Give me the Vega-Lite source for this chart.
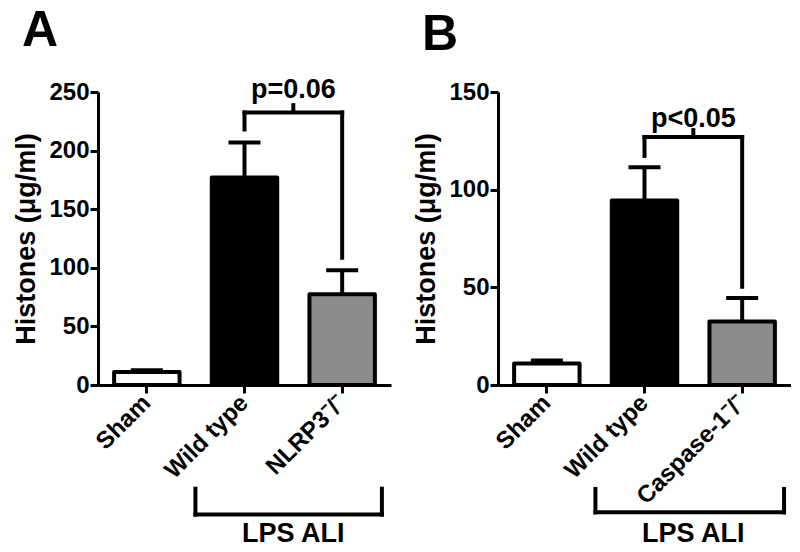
{
  "$schema": "https://vega.github.io/schema/vega-lite/v6.json",
  "padding": {"left": 12, "top": 6, "right": 0, "bottom": 0},
  "background": "white",
  "datasets": {
    "barsA": [
      {"group": "Sham", "value": 11, "up": 12.5},
      {"group": "Wild type", "value": 177, "up": 207},
      {"group": "NLRP3⁻/⁻", "value": 77.5, "up": 98}
    ],
    "annA": [
      {"from": "Wild type", "to": "NLRP3⁻/⁻", "y": 232.5, "left": 218, "right": 108.5, "top": 240.5, "label": "p=0.06", "ty": 244.5, "gy": -110.6, "gtop": -88.5, "glabel": "LPS ALI", "gty": -134.2}
    ],
    "barsB": [
      {"group": "Sham", "value": 11, "up": 12.5},
      {"group": "Wild type", "value": 94.5, "up": 111.5},
      {"group": "Caspase-1⁻/⁻", "value": 32.5, "up": 44.5}
    ],
    "annB": [
      {"from": "Wild type", "to": "Caspase-1⁻/⁻", "y": 127, "left": 117.3, "right": 50.3, "top": 131.5, "label": "p<0.05", "ty": 132.1, "gy": -65.2, "gtop": -53.2, "glabel": "LPS ALI", "gty": -80.5}
    ]
  },
  "hconcat": [
    {
      "width": 293,
      "height": 293,
      "title": {"text": "A", "anchor": "start", "frame": "group", "fontSize": 50, "font": "Liberation Sans", "fontWeight": "bold", "color": "black", "dx": -76, "offset": 20},
      "layer": [
        {
          "data": {"name": "barsA"},
          "mark": {"type": "bar", "stroke": "black", "strokeWidth": 4, "strokeJoin": "round"},
          "encoding": {
            "x": {"field": "group", "type": "nominal", "title": null, "sort": null,
                  "scale": {"domain": ["Sham", "Wild type", "NLRP3⁻/⁻"], "paddingInner": 0.33, "paddingOuter": 0.165}},
            "y": {"field": "value", "type": "quantitative", "title": "Histones (μg/ml)",
                  "scale": {"domain": [0, 250], "nice": false},
                  "axis": {"values": [0, 50, 100, 150, 200, 250]}},
            "color": {"field": "group", "type": "nominal", "legend": null,
                      "scale": {"domain": ["Sham", "Wild type", "NLRP3⁻/⁻", "Caspase-1⁻/⁻"], "range": ["white", "black", "#8c8c8c", "#8c8c8c"]}}
          }
        },
        {
          "data": {"name": "barsA"},
          "mark": {"type": "rule", "strokeWidth": 4, "color": "black"},
          "encoding": {
            "x": {"field": "group", "type": "nominal", "title": null},
            "y": {"field": "value", "type": "quantitative", "title": "Histones (μg/ml)"},
            "y2": {"field": "up"}
          }
        },
        {
          "data": {"name": "barsA"},
          "mark": {"type": "tick", "size": 32, "thickness": 4, "color": "black", "opacity": 1},
          "encoding": {
            "x": {"field": "group", "type": "nominal", "title": null},
            "y": {"field": "up", "type": "quantitative", "title": "Histones (μg/ml)"}
          }
        },
        {
          "data": {"name": "annA"},
          "mark": {"type": "rule", "strokeWidth": 4, "color": "black", "strokeCap": "square"},
          "encoding": {
            "x": {"field": "from", "type": "nominal", "title": null, "bandPosition": 0.5},
            "x2": {"field": "to", "bandPosition": 0.5},
            "y": {"field": "y", "type": "quantitative", "title": "Histones (μg/ml)"}
          }
        },
        {
          "data": {"name": "annA"},
          "mark": {"type": "rule", "strokeWidth": 4, "color": "black", "strokeCap": "square"},
          "encoding": {
            "x": {"field": "from", "type": "nominal", "title": null, "bandPosition": 0.5},
            "y": {"field": "left", "type": "quantitative", "title": "Histones (μg/ml)"},
            "y2": {"field": "y"}
          }
        },
        {
          "data": {"name": "annA"},
          "mark": {"type": "rule", "strokeWidth": 4, "color": "black", "strokeCap": "square"},
          "encoding": {
            "x": {"field": "to", "type": "nominal", "title": null, "bandPosition": 0.5},
            "y": {"field": "right", "type": "quantitative", "title": "Histones (μg/ml)"},
            "y2": {"field": "y"}
          }
        },
        {
          "data": {"name": "annA"},
          "mark": {"type": "rule", "strokeWidth": 4, "color": "black"},
          "encoding": {
            "x": {"field": "from", "type": "nominal", "title": null, "bandPosition": 1.246},
            "y": {"field": "y", "type": "quantitative", "title": "Histones (μg/ml)"},
            "y2": {"field": "top"}
          }
        },
        {
          "data": {"name": "annA"},
          "mark": {"type": "text", "align": "center", "baseline": "alphabetic", "font": "Liberation Sans", "fontWeight": "bold", "fontSize": 27, "color": "black"},
          "encoding": {
            "x": {"field": "from", "type": "nominal", "title": null, "bandPosition": 1.246},
            "y": {"field": "ty", "type": "quantitative", "title": "Histones (μg/ml)"},
            "text": {"field": "label"}
          }
        },
        {
          "data": {"name": "annA"},
          "mark": {"type": "rule", "strokeWidth": 4, "color": "black", "strokeCap": "square"},
          "encoding": {
            "x": {"field": "from", "type": "nominal", "title": null, "bandPosition": -0.25},
            "x2": {"field": "to", "bandPosition": 1.107},
            "y": {"field": "gy", "type": "quantitative", "title": "Histones (μg/ml)"}
          }
        },
        {
          "data": {"name": "annA"},
          "mark": {"type": "rule", "strokeWidth": 4, "color": "black", "strokeCap": "square"},
          "encoding": {
            "x": {"field": "from", "type": "nominal", "title": null, "bandPosition": -0.25},
            "y": {"field": "gtop", "type": "quantitative", "title": "Histones (μg/ml)"},
            "y2": {"field": "gy"}
          }
        },
        {
          "data": {"name": "annA"},
          "mark": {"type": "rule", "strokeWidth": 4, "color": "black", "strokeCap": "square"},
          "encoding": {
            "x": {"field": "to", "type": "nominal", "title": null, "bandPosition": 1.107},
            "y": {"field": "gtop", "type": "quantitative", "title": "Histones (μg/ml)"},
            "y2": {"field": "gy"}
          }
        },
        {
          "data": {"name": "annA"},
          "mark": {"type": "text", "align": "center", "baseline": "alphabetic", "font": "Liberation Sans", "fontWeight": "bold", "fontSize": 27, "color": "black"},
          "encoding": {
            "x": {"field": "from", "type": "nominal", "title": null, "bandPosition": 1.246},
            "y": {"field": "gty", "type": "quantitative", "title": "Histones (μg/ml)"},
            "text": {"field": "glabel"}
          }
        }
      ]
    },
    {
      "width": 293,
      "height": 293,
      "title": {"text": "B", "anchor": "start", "frame": "group", "fontSize": 50, "font": "Liberation Sans", "fontWeight": "bold", "color": "black", "dx": -76, "offset": 20},
      "layer": [
        {
          "data": {"name": "barsB"},
          "mark": {"type": "bar", "stroke": "black", "strokeWidth": 4, "strokeJoin": "round"},
          "encoding": {
            "x": {"field": "group", "type": "nominal", "title": null, "sort": null,
                  "scale": {"domain": ["Sham", "Wild type", "Caspase-1⁻/⁻"], "paddingInner": 0.33, "paddingOuter": 0.165}},
            "y": {"field": "value", "type": "quantitative", "title": "Histones (μg/ml)",
                  "scale": {"domain": [0, 150], "nice": false},
                  "axis": {"values": [0, 50, 100, 150]}},
            "color": {"field": "group", "type": "nominal", "legend": null,
                      "scale": {"domain": ["Sham", "Wild type", "NLRP3⁻/⁻", "Caspase-1⁻/⁻"], "range": ["white", "black", "#8c8c8c", "#8c8c8c"]}}
          }
        },
        {
          "data": {"name": "barsB"},
          "mark": {"type": "rule", "strokeWidth": 4, "color": "black"},
          "encoding": {
            "x": {"field": "group", "type": "nominal", "title": null},
            "y": {"field": "value", "type": "quantitative", "title": "Histones (μg/ml)"},
            "y2": {"field": "up"}
          }
        },
        {
          "data": {"name": "barsB"},
          "mark": {"type": "tick", "size": 32, "thickness": 4, "color": "black", "opacity": 1},
          "encoding": {
            "x": {"field": "group", "type": "nominal", "title": null},
            "y": {"field": "up", "type": "quantitative", "title": "Histones (μg/ml)"}
          }
        },
        {
          "data": {"name": "annB"},
          "mark": {"type": "rule", "strokeWidth": 4, "color": "black", "strokeCap": "square"},
          "encoding": {
            "x": {"field": "from", "type": "nominal", "title": null, "bandPosition": 0.5},
            "x2": {"field": "to", "bandPosition": 0.5},
            "y": {"field": "y", "type": "quantitative", "title": "Histones (μg/ml)"}
          }
        },
        {
          "data": {"name": "annB"},
          "mark": {"type": "rule", "strokeWidth": 4, "color": "black", "strokeCap": "square"},
          "encoding": {
            "x": {"field": "from", "type": "nominal", "title": null, "bandPosition": 0.5},
            "y": {"field": "left", "type": "quantitative", "title": "Histones (μg/ml)"},
            "y2": {"field": "y"}
          }
        },
        {
          "data": {"name": "annB"},
          "mark": {"type": "rule", "strokeWidth": 4, "color": "black", "strokeCap": "square"},
          "encoding": {
            "x": {"field": "to", "type": "nominal", "title": null, "bandPosition": 0.5},
            "y": {"field": "right", "type": "quantitative", "title": "Histones (μg/ml)"},
            "y2": {"field": "y"}
          }
        },
        {
          "data": {"name": "annB"},
          "mark": {"type": "rule", "strokeWidth": 4, "color": "black"},
          "encoding": {
            "x": {"field": "from", "type": "nominal", "title": null, "bandPosition": 1.246},
            "y": {"field": "y", "type": "quantitative", "title": "Histones (μg/ml)"},
            "y2": {"field": "top"}
          }
        },
        {
          "data": {"name": "annB"},
          "mark": {"type": "text", "align": "center", "baseline": "alphabetic", "font": "Liberation Sans", "fontWeight": "bold", "fontSize": 27, "color": "black"},
          "encoding": {
            "x": {"field": "from", "type": "nominal", "title": null, "bandPosition": 1.246},
            "y": {"field": "ty", "type": "quantitative", "title": "Histones (μg/ml)"},
            "text": {"field": "label"}
          }
        },
        {
          "data": {"name": "annB"},
          "mark": {"type": "rule", "strokeWidth": 4, "color": "black", "strokeCap": "square"},
          "encoding": {
            "x": {"field": "from", "type": "nominal", "title": null, "bandPosition": -0.25},
            "x2": {"field": "to", "bandPosition": 1.14},
            "y": {"field": "gy", "type": "quantitative", "title": "Histones (μg/ml)"}
          }
        },
        {
          "data": {"name": "annB"},
          "mark": {"type": "rule", "strokeWidth": 4, "color": "black", "strokeCap": "square"},
          "encoding": {
            "x": {"field": "from", "type": "nominal", "title": null, "bandPosition": -0.25},
            "y": {"field": "gtop", "type": "quantitative", "title": "Histones (μg/ml)"},
            "y2": {"field": "gy"}
          }
        },
        {
          "data": {"name": "annB"},
          "mark": {"type": "rule", "strokeWidth": 4, "color": "black", "strokeCap": "square"},
          "encoding": {
            "x": {"field": "to", "type": "nominal", "title": null, "bandPosition": 1.14},
            "y": {"field": "gtop", "type": "quantitative", "title": "Histones (μg/ml)"},
            "y2": {"field": "gy"}
          }
        },
        {
          "data": {"name": "annB"},
          "mark": {"type": "text", "align": "center", "baseline": "alphabetic", "font": "Liberation Sans", "fontWeight": "bold", "fontSize": 27, "color": "black"},
          "encoding": {
            "x": {"field": "from", "type": "nominal", "title": null, "bandPosition": 1.246},
            "y": {"field": "gty", "type": "quantitative", "title": "Histones (μg/ml)"},
            "text": {"field": "glabel"}
          }
        }
      ]
    }
  ],
  "spacing": 107,
  "bounds": "flush",
  "config": {
    "view": {"stroke": null},
    "font": "Liberation Sans",
    "axis": {
      "grid": false,
      "domainColor": "black", "domainWidth": 3,
      "tickColor": "black", "tickWidth": 3, "tickSize": 8,
      "labelFont": "Liberation Sans", "labelFontWeight": "bold", "labelFontSize": 24, "labelColor": "black", "labelPadding": 1,
      "titleFont": "Liberation Sans", "titleFontWeight": "bold", "titleFontSize": 27, "titleColor": "black", "titlePadding": 8
    },
    "axisX": {"labelAngle": -45, "labelAlign": "right", "labelBaseline": "middle", "labelPadding": 6}
  }
}
